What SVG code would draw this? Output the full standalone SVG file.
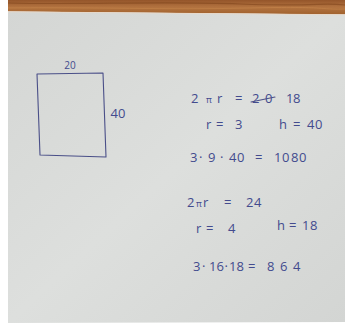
<svg xmlns="http://www.w3.org/2000/svg" width="345" height="327" viewBox="0 0 345 327">
<defs>
<linearGradient id="paper" x1="0" y1="0" x2="1" y2="1">
<stop offset="0" stop-color="#d4d6d4"/>
<stop offset="0.5" stop-color="#dddfdd"/>
<stop offset="1" stop-color="#d3d5d3"/>
</linearGradient>
<linearGradient id="wood" x1="0" y1="0" x2="0" y2="1">
<stop offset="0" stop-color="#94552a"/>
<stop offset="0.5" stop-color="#b37340"/>
<stop offset="1" stop-color="#a0622e"/>
</linearGradient>
<style>
.ink{fill:#434b8e;font-family:"Open Sans","DejaVu Sans",sans-serif;font-weight:400}
.pen{fill:none;stroke:#4a4f88;stroke-width:1.1;stroke-linecap:round;stroke-linejoin:round}
.t{font-size:13px}
.s{font-size:10px}
.pi{font-size:9px}
</style>
</defs>
<rect x="0" y="0" width="345" height="327" fill="#ffffff"/>
<g id="wood-edge">
<polygon points="8,0 345,0 345,14.5 8,11.5" fill="url(#wood)"/>
<path d="M8,3 C80,5 160,1 240,4 S320,2 345,5" fill="none" stroke="#7a4018" stroke-width="1.2" opacity="0.5"/>
<path d="M8,8 C90,7 170,10 250,8 S320,10 345,9" fill="none" stroke="#c98a4e" stroke-width="1" opacity="0.5"/>
</g>
<g id="paper-sheet">
<polygon points="8,11.5 345,14.5 345,322 8,323" fill="url(#paper)"/>
<line x1="8" y1="11.8" x2="345" y2="14.8" stroke="#e8d8c8" stroke-width="0.8"/>
</g>
<g id="rectangle">
<path class="pen" d="M37,74 L103,73 L106,157 L40,155 Z"/>
<text class="ink s" x="70" y="69" text-anchor="middle">20</text>
<text class="ink t" x="118" y="118" text-anchor="middle">40</text>
</g>
<g id="case1">
<text class="ink t" y="102.5"><tspan x="191">2</tspan><tspan class="pi" x="206">π</tspan><tspan x="217">r</tspan><tspan x="224"> </tspan><tspan x="235">=</tspan><tspan x="244"> </tspan><tspan x="252">2</tspan><tspan x="265">0</tspan><tspan x="275"> </tspan><tspan x="286">1</tspan><tspan x="293">8</tspan></text>
<path class="pen" d="M251,102 L275,97"/>
<text class="ink t" y="128.5"><tspan x="206">r</tspan><tspan x="212"> </tspan><tspan x="216">=</tspan><tspan x="226"> </tspan><tspan x="235">3</tspan></text>
<text class="ink t" y="128.5"><tspan x="279">h</tspan><tspan x="287"> </tspan><tspan x="293">=</tspan><tspan x="302"> </tspan><tspan x="307">4</tspan><tspan x="315">0</tspan></text>
<text class="ink t" y="161.5"><tspan x="190">3</tspan><tspan x="198"> </tspan><tspan x="199">·</tspan><tspan x="204"> </tspan><tspan x="208">9</tspan><tspan x="216"> </tspan><tspan x="220">·</tspan><tspan x="225"> </tspan><tspan x="229">4</tspan><tspan x="237">0</tspan><tspan x="246"> </tspan><tspan x="255">=</tspan><tspan x="264"> </tspan><tspan x="274">1</tspan><tspan x="282">0</tspan><tspan x="291">8</tspan><tspan x="299">0</tspan></text>
</g>
<g id="case2">
<text class="ink t" y="206.5"><tspan x="187">2</tspan><tspan class="pi" x="196">π</tspan><tspan x="203">r</tspan><tspan x="210"> </tspan><tspan x="224">=</tspan><tspan x="234"> </tspan><tspan x="246">2</tspan><tspan x="254">4</tspan></text>
<text class="ink t" y="233"><tspan x="196">r</tspan><tspan x="203"> </tspan><tspan x="206">=</tspan><tspan x="216"> </tspan><tspan x="228">4</tspan></text>
<text class="ink t" y="229.5"><tspan x="277">h</tspan><tspan x="285"> </tspan><tspan x="289">=</tspan><tspan x="298"> </tspan><tspan x="302">1</tspan><tspan x="310">8</tspan></text>
<text class="ink t" y="271"><tspan x="193">3</tspan><tspan x="201"> </tspan><tspan x="202">·</tspan><tspan x="206"> </tspan><tspan x="209">1</tspan><tspan x="216.5">6</tspan><tspan x="224"> </tspan><tspan x="224.5">·</tspan><tspan x="228"> </tspan><tspan x="229">1</tspan><tspan x="236.5">8</tspan><tspan x="244"> </tspan><tspan x="248">=</tspan><tspan x="258"> </tspan><tspan x="267">8</tspan><tspan x="280">6</tspan><tspan x="293">4</tspan></text>
</g>
</svg>
